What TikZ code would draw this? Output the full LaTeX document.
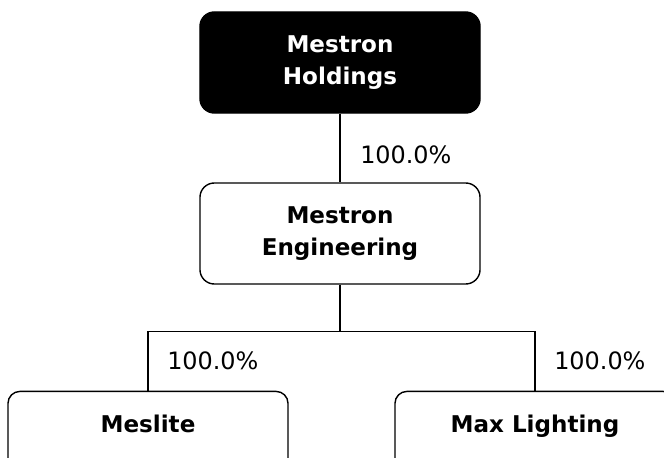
\documentclass[tikz,border=0pt]{standalone}
\usepackage{fontspec}
\setmainfont{DejaVu Sans}
\tikzset{
  company/.style={draw, line width=1pt, rounded corners=0.36cm, align=center,
    minimum width=7cm, minimum height=2.525cm,
    font=\fontsize{16.4}{22.7}\selectfont\bfseries},
  parent/.style={company, fill=black, text=white},
  subsidiary/.style={draw, line width=1pt, rounded corners=0.3cm, inner ysep=0pt,
    minimum width=7cm, anchor=north, text height=1.03cm, text depth=2.5cm,
    font=\fontsize{16.4}{20}\selectfont\bfseries},
  share/.style={font=\fontsize{17}{20}\selectfont, anchor=west, inner sep=0pt}
}
\begin{document}
\begin{tikzpicture}[x=0.025cm, y=-0.025cm]
      \useasboundingbox (0,0) rectangle (664,458);
      \clip (0,0) rectangle (664,458);
      \node[parent] (holdings) at (340,62.5) {Mestron\\Holdings};
      \node[company] (engineering) at (340,233.5) {Mestron\\Engineering};
      \node[subsidiary] (meslite) at (148,390.7) {Meslite};
      \node[subsidiary] (maxlighting) at (535,390.7) {Max Lighting};
      \coordinate (bus) at (340,331.7);
      \begin{scope}[line width=1pt]
        \draw (holdings) -- (engineering);
        \draw (engineering) -- (bus);
        \draw (bus) -| (meslite);
        \draw (bus) -| (maxlighting);
      \end{scope}
      \node[share] (share1) at (360,155) {100.0\%};
      \node[share] (share2) at (167,361) {100.0\%};
      \node[share] (share3) at (554,361) {100.0\%};
    \end{tikzpicture}
\end{document}
